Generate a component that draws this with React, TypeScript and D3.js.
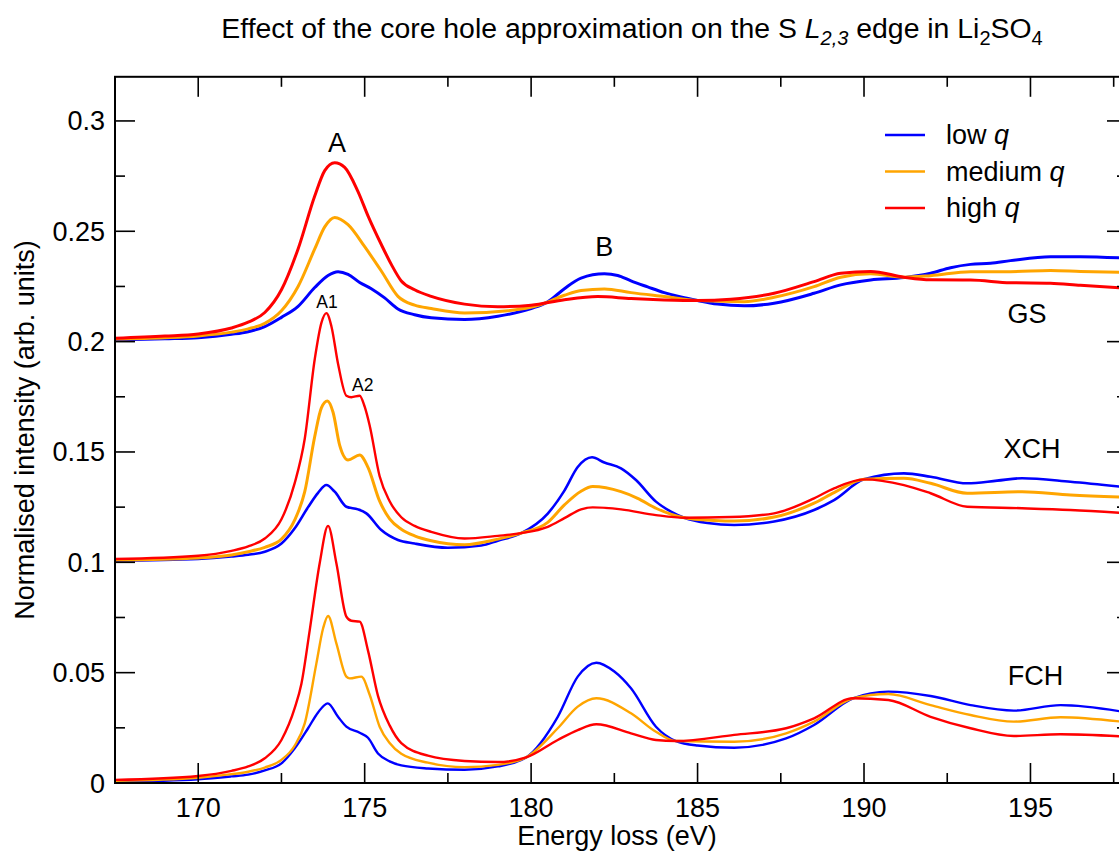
import React from "react";
import * as d3 from "d3";

type Pt = [number, number];

// GS (ground state) curves, offset by +0.2
const gsLow: Pt[] = [[167.5,0.2008],[169,0.2013],[170,0.2018],[171,0.2033],[171.5,0.2045],[172,0.2068],[172.5,0.2110],[173,0.2160],[173.5,0.2245],[173.9,0.2300],[174.2,0.2317],[174.5,0.2305],[174.85,0.2268],[175.2,0.2240],[175.6,0.2198],[176.0,0.2148],[176.5,0.2122],[177.0,0.2108],[178.0,0.2100],[179.0,0.2115],[180.0,0.2150],[180.5,0.2180],[181.0,0.2240],[181.5,0.2288],[182.2,0.2307],[182.6,0.2300],[183.0,0.2275],[183.5,0.2248],[184.0,0.2222],[184.5,0.2202],[185.0,0.2186],[185.6,0.2170],[186.4,0.2162],[187.3,0.2174],[188.5,0.2219],[189.3,0.2257],[190.2,0.2279],[191.2,0.2290],[192.0,0.2310],[192.6,0.2335],[193.2,0.2350],[193.8,0.2355],[194.4,0.2367],[195.6,0.2385],[196.5,0.2385],[197.9,0.2378]];
const gsMed: Pt[] = [[167.5,0.2012],[169,0.2018],[170,0.2026],[171,0.2043],[171.5,0.2058],[172,0.2083],[172.5,0.2140],[173,0.2250],[173.5,0.2420],[173.8,0.2520],[174.1,0.2563],[174.5,0.2530],[175.0,0.2430],[175.5,0.2320],[176.0,0.2205],[176.5,0.2165],[177.0,0.2150],[178.0,0.2130],[179.3,0.2140],[180.3,0.2168],[181.0,0.2210],[181.5,0.2232],[182.2,0.2239],[183.0,0.2222],[184.0,0.2204],[185.0,0.2186],[186.4,0.2181],[187.3,0.2201],[188.5,0.2249],[189.3,0.2292],[190.2,0.2307],[191.2,0.2292],[192.0,0.2299],[193.2,0.2317],[194.4,0.2317],[195.6,0.2322],[196.5,0.2318],[197.9,0.2313]];
const gsHigh: Pt[] = [[167.5,0.2015],[169,0.2025],[170,0.2035],[171,0.2062],[171.5,0.2088],[172,0.2132],[172.5,0.2235],[173,0.2420],[173.5,0.2660],[173.8,0.2775],[174.1,0.2811],[174.4,0.2790],[174.8,0.2680],[175.1,0.2570],[175.5,0.2440],[175.8,0.2350],[176.1,0.2275],[176.5,0.2235],[177.0,0.2205],[178.0,0.2170],[179.0,0.2158],[180.0,0.2165],[181.0,0.2190],[182.0,0.2204],[183.0,0.2195],[184.0,0.2189],[185.0,0.2186],[186.0,0.2192],[187.3,0.2219],[188.5,0.2272],[189.3,0.2310],[190.2,0.2318],[191.2,0.2292],[192.0,0.2280],[193.2,0.2279],[194.4,0.2267],[195.6,0.2265],[196.5,0.2255],[197.9,0.2242]];

// XCH curves, offset by +0.1
const xchLow: Pt[] = [[167.5,0.1007],[170,0.1015],[171,0.1026],[171.5,0.1034],[172,0.1048],[172.5,0.1085],[172.9,0.1154],[173.3,0.1250],[173.6,0.1315],[173.85,0.1350],[174.1,0.1320],[174.45,0.1252],[174.8,0.1240],[175.05,0.1222],[175.5,0.1146],[176.0,0.1101],[176.5,0.1085],[177.5,0.1066],[178.5,0.1076],[179.0,0.1098],[179.7,0.1132],[180.5,0.1221],[181.0,0.1325],[181.4,0.1432],[181.83,0.1476],[182.2,0.1452],[182.7,0.1426],[183.15,0.1373],[183.75,0.1275],[184.2,0.1230],[184.6,0.1202],[185.3,0.1178],[186.1,0.1169],[187.3,0.1185],[188.5,0.1237],[189.1,0.1282],[190.0,0.1376],[191.2,0.1403],[192.0,0.1388],[193.1,0.1358],[194.0,0.1370],[194.75,0.1381],[196.2,0.1365],[197.9,0.1340]];
const xchMed: Pt[] = [[167.5,0.1010],[170,0.1020],[171,0.1033],[171.5,0.1048],[172,0.1068],[172.5,0.1105],[172.9,0.1192],[173.2,0.1320],[173.5,0.1570],[173.7,0.1700],[173.88,0.1731],[174.05,0.1680],[174.25,0.1530],[174.5,0.1464],[174.85,0.1486],[175.1,0.1430],[175.45,0.1277],[175.75,0.1197],[176.1,0.1150],[176.5,0.1120],[177.0,0.1098],[178.0,0.1080],[179.0,0.1105],[179.7,0.1132],[180.5,0.1181],[181.0,0.1260],[181.5,0.1322],[181.85,0.1343],[182.7,0.1320],[183.2,0.1290],[183.75,0.1245],[184.6,0.1202],[185.5,0.1190],[186.1,0.1187],[187.3,0.1205],[188.5,0.1268],[189.1,0.1316],[190.0,0.1376],[191.2,0.1381],[192.0,0.1358],[193.1,0.1313],[194.75,0.1320],[196.2,0.1305],[197.9,0.1295]];
const xchHigh: Pt[] = [[167.5,0.1015],[170,0.1030],[171,0.1052],[171.5,0.1072],[172,0.1108],[172.5,0.1195],[172.9,0.1360],[173.2,0.1560],[173.5,0.1920],[173.7,0.2085],[173.85,0.2129],[174.0,0.2070],[174.2,0.1900],[174.45,0.1755],[174.6,0.1748],[174.85,0.1755],[175.0,0.1705],[175.15,0.1620],[175.45,0.1390],[175.75,0.1277],[176.1,0.1204],[176.5,0.1165],[177.0,0.1138],[178.0,0.1108],[179.0,0.1120],[179.7,0.1132],[180.5,0.1161],[181.0,0.1200],[181.5,0.1240],[181.85,0.1249],[182.7,0.1240],[183.75,0.1214],[184.6,0.1202],[186.0,0.1205],[187.3,0.1222],[188.5,0.1290],[189.1,0.1335],[190.0,0.1376],[191.2,0.1350],[192.0,0.1313],[193.1,0.1252],[194.75,0.1245],[196.2,0.1237],[197.9,0.1222]];

// FCH curves, no offset
const fchLow: Pt[] = [[167.5,0.0006],[170,0.0017],[171,0.0030],[171.5,0.0038],[172,0.0057],[172.5,0.0089],[172.9,0.0157],[173.3,0.0248],[173.6,0.0320],[173.89,0.0361],[174.2,0.0300],[174.45,0.0255],[174.85,0.0228],[175.1,0.0205],[175.4,0.0134],[175.75,0.0098],[176.1,0.0080],[176.9,0.0066],[178.0,0.0060],[179.0,0.0075],[179.85,0.0116],[180.8,0.0300],[181.4,0.0482],[181.96,0.0545],[182.5,0.0505],[183.0,0.0429],[183.75,0.0255],[184.35,0.0190],[185.0,0.0170],[186.1,0.0160],[187.66,0.0202],[188.5,0.0263],[189.67,0.0384],[190.73,0.0414],[192.0,0.0394],[193.2,0.0353],[194.5,0.0328],[195.9,0.0353],[197.9,0.0320]];
const fchMed: Pt[] = [[167.5,0.0010],[170,0.0024],[171,0.0040],[171.5,0.0051],[172,0.0070],[172.5,0.0105],[172.9,0.0170],[173.2,0.0270],[173.55,0.0542],[173.75,0.0700],[173.9,0.0757],[174.15,0.0633],[174.45,0.0482],[174.55,0.0474],[174.9,0.0482],[175.15,0.0400],[175.45,0.0255],[175.75,0.0181],[176.1,0.0132],[176.9,0.0092],[178.0,0.0072],[179.0,0.0082],[179.85,0.0116],[180.8,0.0248],[181.4,0.0346],[181.96,0.0384],[183.0,0.0316],[183.75,0.0232],[184.35,0.0190],[186.1,0.0187],[187.66,0.0225],[188.5,0.0278],[189.67,0.0384],[190.73,0.0403],[192.0,0.0353],[193.2,0.0308],[194.5,0.0278],[195.9,0.0298],[197.9,0.0275]];
const fchHigh: Pt[] = [[167.5,0.0014],[170,0.0032],[171,0.0055],[171.5,0.0075],[172,0.0112],[172.5,0.0195],[172.9,0.0340],[173.1,0.0450],[173.35,0.0693],[173.65,0.0997],[173.9,0.1165],[174.15,0.0996],[174.45,0.0754],[174.6,0.0735],[174.85,0.0731],[175.1,0.0600],[175.4,0.0395],[175.75,0.0261],[176.1,0.0181],[176.9,0.0124],[178.0,0.0100],[179.0,0.0095],[179.85,0.0116],[180.8,0.0195],[181.4,0.0240],[181.96,0.0266],[183.0,0.0225],[183.75,0.0195],[184.35,0.0190],[186.1,0.0218],[187.66,0.0248],[188.5,0.0293],[189.67,0.0384],[190.73,0.0376],[192.0,0.0300],[193.2,0.0248],[194.5,0.0213],[195.9,0.0221],[197.9,0.0210]];

const seriesNames = ["low", "medium", "high"];
const seriesColors = ["#0000ff", "#ffa500", "#ff0000"];
const xMajorTicks = [170, 175, 180, 185, 190, 195];
const xMinorTicks = [172.5, 177.5, 182.5, 187.5, 192.5, 197.5];
const yMajorTicks = [0, 0.05, 0.1, 0.15, 0.2, 0.25, 0.3];
const yMinorTicks = [0.025, 0.075, 0.125, 0.175, 0.225, 0.275];
const yTickLabels = ["0", "0.05", "0.1", "0.15", "0.2", "0.25", "0.3"];
const groupLabels = [
  { text: "GS", x: 194.9, y: 0.2084 },
  { text: "XCH", x: 195.05, y: 0.1471 },
  { text: "FCH", x: 195.15, y: 0.0444 },
];
const peakLabels = [
  { text: "A", x: 174.17, y: 0.2858, size: 27 },
  { text: "B", x: 182.2, y: 0.2389, size: 27 },
  { text: "A1", x: 173.87, y: 0.2151, size: 17.5 },
  { text: "A2", x: 174.94, y: 0.1778, size: 17.5 },
];

const W = 1119, H = 855;
const M = { left: 115, right: 1127, top: 76.8, bottom: 783 };
const FONT = "'Liberation Sans', Arial, Helvetica, sans-serif";
const FS = 27;

export default function App() {
  const x = d3.scaleLinear().domain([167.5, 197.9]).range([M.left, M.right]);
  const y = d3.scaleLinear().domain([0, 0.32]).range([M.bottom, M.top]);
  const line = d3
    .line<Pt>()
    .x((d) => x(d[0]))
    .y((d) => y(d[1]))
    .curve(d3.curveMonotoneX);

  const groups: { curves: Pt[][]; widths: number[] }[] = [
    { curves: [gsLow, gsMed, gsHigh], widths: [3, 3, 3] },
    { curves: [xchLow, xchMed, xchHigh], widths: [2.6, 3, 2.4] },
    { curves: [fchLow, fchMed, fchHigh], widths: [2.4, 2.4, 2.4] },
  ];

  const tickColor = "#000";
  return (
    <svg
      width={W}
      height={H}
      style={{ position: "absolute", left: 0, top: 0, background: "#fff" }}
      fontFamily={FONT}
    >
      <defs>
        <clipPath id="plotclip">
          <rect x={M.left} y={M.top} width={M.right - M.left} height={M.bottom - M.top} />
        </clipPath>
      </defs>
      {/* title */}
      <text x={632} y={38} fontSize={28.4} textAnchor="middle" fill="#000">
        Effect of the core hole approximation on the S{" "}
        <tspan fontStyle="italic">L</tspan>
        <tspan fontStyle="italic" fontSize={20} dy={7}>2,3</tspan>
        <tspan dy={-7}> edge in Li</tspan>
        <tspan fontSize={20} dy={7}>2</tspan>
        <tspan dy={-7}>SO</tspan>
        <tspan fontSize={20} dy={7}>4</tspan>
      </text>

      {/* curves */}
      <g clipPath="url(#plotclip)">
        {groups.map((g, gi) =>
          g.curves.map((c, si) => (
            <path
              key={`${gi}-${si}`}
              d={line(c) || ""}
              fill="none"
              stroke={seriesColors[si]}
              strokeWidth={g.widths[si]}
              strokeLinejoin="round"
            />
          ))
        )}
      </g>

      {/* frame */}
      <rect
        x={M.left}
        y={M.top}
        width={M.right - M.left}
        height={M.bottom - M.top}
        fill="none"
        stroke="#000"
        strokeWidth={2}
      />

      {/* x ticks bottom & top */}
      {xMajorTicks.map((t) => (
        <g key={`xm${t}`}>
          <line x1={x(t)} x2={x(t)} y1={M.bottom} y2={M.bottom - 20} stroke={tickColor} strokeWidth={1.6} />
          <line x1={x(t)} x2={x(t)} y1={M.top} y2={M.top + 20} stroke={tickColor} strokeWidth={1.6} />
          <text x={x(t)} y={M.bottom + 34} fontSize={FS} textAnchor="middle" fill="#000">
            {t}
          </text>
        </g>
      ))}
      {xMinorTicks.map((t) => (
        <g key={`xn${t}`}>
          <line x1={x(t)} x2={x(t)} y1={M.bottom} y2={M.bottom - 10} stroke={tickColor} strokeWidth={1.6} />
          <line x1={x(t)} x2={x(t)} y1={M.top} y2={M.top + 10} stroke={tickColor} strokeWidth={1.6} />
        </g>
      ))}

      {/* y ticks left & right */}
      {yMajorTicks.map((t, i) => (
        <g key={`ym${t}`}>
          <line x1={M.left} x2={M.left + 20} y1={y(t)} y2={y(t)} stroke={tickColor} strokeWidth={1.6} />
          <line x1={M.right} x2={M.right - 20} y1={y(t)} y2={y(t)} stroke={tickColor} strokeWidth={1.6} />
          <text x={105} y={y(t) + 9.5} fontSize={FS} textAnchor="end" fill="#000">
            {yTickLabels[i]}
          </text>
        </g>
      ))}
      {yMinorTicks.map((t) => (
        <g key={`yn${t}`}>
          <line x1={M.left} x2={M.left + 10} y1={y(t)} y2={y(t)} stroke={tickColor} strokeWidth={1.6} />
          <line x1={M.right} x2={M.right - 10} y1={y(t)} y2={y(t)} stroke={tickColor} strokeWidth={1.6} />
        </g>
      ))}

      {/* axis labels */}
      <text x={617} y={845} fontSize={FS} textAnchor="middle" fill="#000">
        Energy loss (eV)
      </text>
      <text
        transform={`translate(34, 430) rotate(-90)`}
        fontSize={FS}
        textAnchor="middle"
        fill="#000"
      >
        Normalised intensity (arb. units)
      </text>

      {/* legend */}
      {seriesNames.map((n, i) => (
        <g key={`lg${n}`}>
          <line x1={885} x2={925} y1={135 + i * 36.5} y2={135 + i * 36.5} stroke={seriesColors[i]} strokeWidth={2.6} />
          <text x={946} y={135 + i * 36.5 + 9} fontSize={FS} fill="#000">
            {n} <tspan fontStyle="italic">q</tspan>
          </text>
        </g>
      ))}

      {/* group labels */}
      {groupLabels.map((g) => (
        <text key={g.text} x={x(g.x)} y={y(g.y)} fontSize={FS} textAnchor="middle" fill="#000">
          {g.text}
        </text>
      ))}
      {peakLabels.map((p) => (
        <text key={p.text} x={x(p.x)} y={y(p.y)} fontSize={p.size} textAnchor="middle" fill="#000">
          {p.text}
        </text>
      ))}
    </svg>
  );
}
